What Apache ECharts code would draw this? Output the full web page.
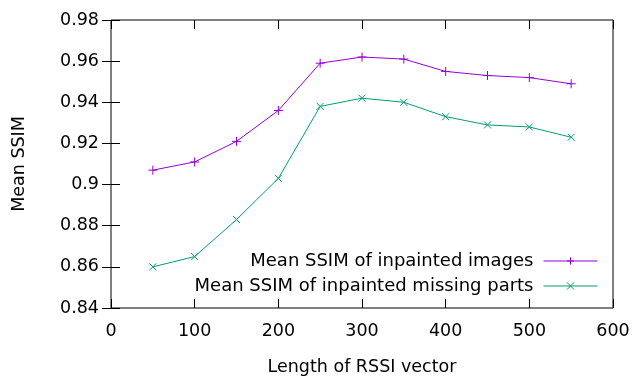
<!DOCTYPE html>
<html><head><meta charset="utf-8">
<script src="https://cdn.jsdelivr.net/npm/echarts@6/dist/echarts.min.js"></script>
<style>html,body{margin:0;padding:0;background:#fff}#c{width:641px;height:379px}</style>
</head><body><div id="c"></div>
<script>
const xValues = [50, 100, 150, 200, 250, 300, 350, 400, 450, 500, 550];
const ssimImages = [0.907, 0.911, 0.921, 0.936, 0.959, 0.962, 0.961, 0.955, 0.953, 0.952, 0.949];
const ssimMissing = [0.860, 0.865, 0.883, 0.903, 0.938, 0.942, 0.940, 0.933, 0.929, 0.928, 0.923];
const seriesNames = ['Mean SSIM of inpainted images', 'Mean SSIM of inpainted missing parts'];
const xTitle = 'Length of RSSI vector';
const yTitle = 'Mean SSIM';

const FONT = 'DejaVu Sans';
const FS = 17.5;
const plus = 'path://M0,5L10,5M5,0L5,10';
const cross = 'path://M0,0L10,10M0,10L10,0';
const chart = echarts.init(document.getElementById('c'), null, {renderer: 'canvas'});
const tickStyle = {show: true, inside: true, length: 9, lineStyle: {color: '#000', width: 1}};
chart.setOption({
  animation: false,
  grid: {left: 111, right: 28, top: 20, bottom: 71, show: true, borderColor: '#000', borderWidth: 1,
         containLabel: false, outerBoundsMode: 'none'},
  legend: {
    right: 43, top: 252, orient: 'vertical', align: 'right', itemGap: 7, padding: 0,
    itemWidth: 54, itemHeight: 9,
    lineStyle: {width: 1},
    itemStyle: {borderWidth: 1},
    textStyle: {fontFamily: FONT, fontSize: 18, lineHeight: 18, color: '#000', padding: [0, 5, 0, 0]},
    data: seriesNames
  },
  xAxis: [
    {type: 'value', min: 0, max: 600, interval: 100, position: 'bottom',
     name: xTitle, nameLocation: 'middle', nameGap: 50,
     nameTextStyle: {fontFamily: FONT, fontSize: FS, color: '#000'},
     axisLine: {show: false}, axisTick: tickStyle, splitLine: {show: false},
     axisLabel: {fontFamily: FONT, fontSize: FS, color: '#000', margin: 14}},
    {type: 'value', min: 0, max: 600, interval: 100, position: 'top',
     axisLine: {show: false}, axisTick: tickStyle, splitLine: {show: false},
     axisLabel: {show: false}}
  ],
  yAxis: [
    {type: 'value', min: 0.84, max: 0.98, interval: 0.02, position: 'left',
     name: yTitle, nameLocation: 'middle', nameGap: 83, nameRotate: 90,
     nameTextStyle: {fontFamily: FONT, fontSize: FS, color: '#000'},
     axisLine: {show: false}, axisTick: tickStyle, splitLine: {show: false},
     axisLabel: {fontFamily: FONT, fontSize: FS, color: '#000', margin: 12,
       formatter: v => String(parseFloat(v.toFixed(2)))}},
    {type: 'value', min: 0.84, max: 0.98, interval: 0.02, position: 'right',
     axisLine: {show: false}, axisTick: tickStyle, splitLine: {show: false},
     axisLabel: {show: false}}
  ],
  series: [
    {name: seriesNames[0], type: 'line', data: xValues.map((x, i) => [x, ssimImages[i]]),
     symbol: plus, symbolSize: 9, showAllSymbol: true,
     lineStyle: {color: '#9400D3', width: 1},
     itemStyle: {color: 'rgba(0,0,0,0)', borderColor: '#9400D3', borderWidth: 1}},
    {name: seriesNames[1], type: 'line', data: xValues.map((x, i) => [x, ssimMissing[i]]),
     symbol: cross, symbolSize: 7, showAllSymbol: true,
     lineStyle: {color: '#009E73', width: 1},
     itemStyle: {color: 'rgba(0,0,0,0)', borderColor: '#009E73', borderWidth: 1}}
  ]
});
</script></body></html>
